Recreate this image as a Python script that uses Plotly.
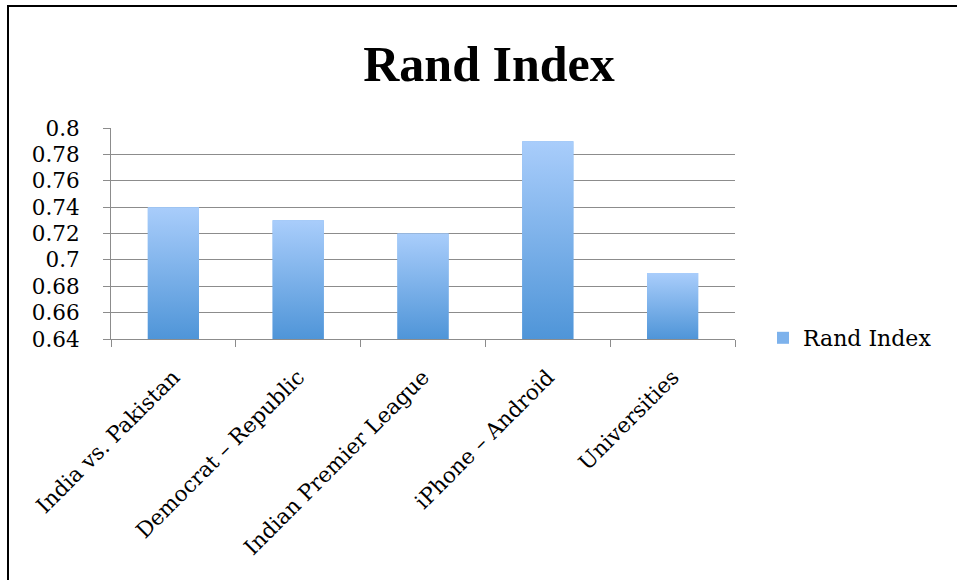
import plotly.graph_objects as go

categories = ["India vs. Pakistan", "Democrat \u2013 Republic", "Indian Premier League",
              "iPhone \u2013 Android", "Universities"]
rand_index = [0.74, 0.73, 0.72, 0.79, 0.69]
series_name = "Rand Index"
y_ticks = [0.64, 0.66, 0.68, 0.70, 0.72, 0.74, 0.76, 0.78, 0.80]
y_tick_labels = ["0.64", "0.66", "0.68", "0.7", "0.72", "0.74", "0.76", "0.78", "0.8"]

W, H = 957, 580
L, R, T, B = 111, 735, 128, 339  # plot area in pixels
BAR_W = 0.41
Y_MIN, Y_MAX = 0.64, 0.80
TOP_C = "#A9CDFB"
BOT_C = "#4F95D8"
GRID_C = "#8c8c8c"

idx = list(range(len(categories)))

fig = go.Figure()

# Real bar trace (used for legend and geometry)
fig.add_trace(go.Bar(
    x=idx, y=rand_index, width=BAR_W,
    marker=dict(color="#7DB2EC", line=dict(width=0)),
    name=series_name, showlegend=True, hoverinfo="x+y",
))

# gradient overlays computed from the data
for i, v in zip(idx, rand_index):
    x0, x1 = i - BAR_W / 2, i + BAR_W / 2
    fig.add_trace(go.Scatter(
        x=[x0, x1, x1, x0, x0],
        y=[Y_MIN, Y_MIN, v, v, Y_MIN],
        mode="lines", line=dict(width=0), fill="toself",
        fillgradient=dict(type="vertical",
                          colorscale=[[0, BOT_C], [1, TOP_C]]),
        showlegend=False, hoverinfo="skip",
    ))

def px_x(p):
    return (p - L) / (R - L)

def px_y(p):
    return (B - p) / (B - T)

# outer frame
fig.add_shape(type="rect", xref="paper", yref="paper",
              x0=px_x(8), x1=px_x(970), y0=px_y(592), y1=px_y(6),
              line=dict(color="black", width=2), fillcolor="rgba(0,0,0,0)", layer="below")

fig.update_layout(
    width=W, height=H,
    margin=dict(l=L, r=W - R, t=T, b=H - B, autoexpand=False),
    paper_bgcolor="white", plot_bgcolor="white",
    title=dict(text="<b>Rand Index</b>", x=px_x(489), xref="paper", xanchor="center",
               y=1 - 63 / H, yref="container", yanchor="middle",
               font=dict(family="Liberation Serif", size=50, color="black")),
    font=dict(family="DejaVu Serif", color="black"),
    legend=dict(x=px_x(763), xanchor="left", y=px_y(338), yanchor="middle",
                font=dict(family="DejaVu Serif", size=22, color="black"),
                bgcolor="rgba(0,0,0,0)", borderwidth=0),
    showlegend=True,
)

fig.update_xaxes(
    range=[-0.5, len(categories) - 0.5], tickmode="array", tickvals=idx, ticktext=categories,
    ticks="", tickangle=-45, tickfont=dict(family="DejaVu Serif", size=21.5, color="black"),
    ticklabelstandoff=16,
    showline=True, linecolor=GRID_C, linewidth=1, showgrid=False, zeroline=False,
    minor=dict(tickmode="array", tickvals=[i - 0.5 for i in range(len(categories) + 1)],
               ticks="outside", ticklen=7, tickcolor=GRID_C, tickwidth=1, showgrid=False),
    fixedrange=True,
)
fig.update_yaxes(
    range=[Y_MIN, Y_MAX], tickmode="array", tickvals=y_ticks, ticktext=y_tick_labels,
    ticks="outside", ticklen=7, tickcolor=GRID_C, tickwidth=1,
    tickfont=dict(family="DejaVu Serif", size=21.5, color="black"), ticklabelstandoff=19,
    showline=True, linecolor=GRID_C, linewidth=1,
    showgrid=True, gridcolor=GRID_C, gridwidth=1.3, zeroline=False, fixedrange=True,
)

fig.write_html("out.html")
